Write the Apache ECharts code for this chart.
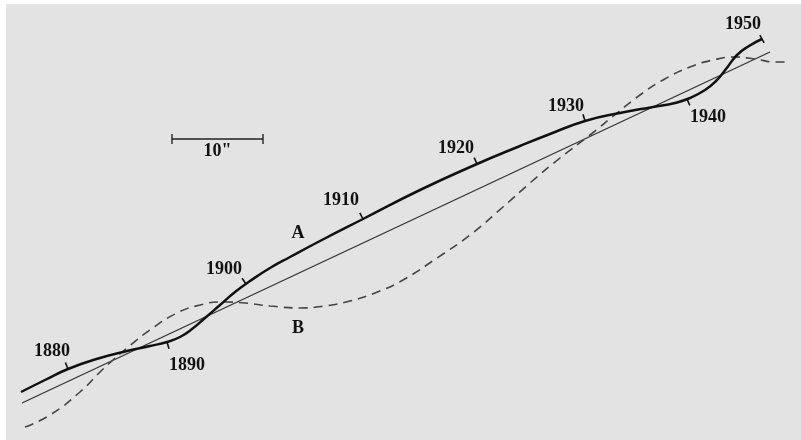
<!DOCTYPE html>
<html>
<head>
<meta charset="utf-8">
<script src="https://cdn.jsdelivr.net/npm/echarts@6/dist/echarts.min.js"></script>
<style>
html,body{margin:0;padding:0;background:#fff;}
#c{width:801px;height:440px;}
</style>
</head>
<body>
<div id="c"></div>
<script>
// Plane coordinates (x to the right, y upward), arbitrary units
const curveA = [
  [21,48],[45,60],[68,71],[100,82],[127,89],[150,94],[167,98],[180,103],[192,111],[205,122],
  [220,135],[235,148],[250,159],[270,172],[290,183],[320,199],[363,221],[420,250],[477,276],
  [520,294],[550,306],[585,319],[620,327],[653,333],[675,337],[690,342],[705,350],[716,359],
  [726,371],[737,385],[749,394],[762,401]
];
const meanLine = [[22,37],[770,388]];
const curveB = [
  [25,13],[50,25],[80,48],[100,68],[113,80],[127,92],[150,110],[177,127],[200,135],[222,138],
  [245,137],[270,134],[300,132],[325,134],[350,139],[375,147],[403,160],[437,182],[470,205],
  [503,233],[530,257],[560,282],[590,305],[617,327],[640,345],[663,360],[690,373],[713,380],
  [735,383],[755,381],[775,378],[788,378]
];
const years = [1880,1890,1900,1910,1920,1930,1940,1950];
const yearPoints = [[68,71],[167,98],[246,156],[363,221],[477,276],[585,319],[687,341],[762,401]];
const curveLabels = ['A','B'];
const curveLabelPoints = [[298,207],[298,112]];
const scaleBarStart = [172,301];
const scaleBarLength = 91; // 10 arcseconds
const scaleBarText = '10"';

// layout (pixels)
const tickSide = ['up','down','up','up','up','up','down','both'];
const yearLabelOffset = [[-16,-18],[20,23],[-22,-15],[-22,-19],[-21,-16],[-19,-15],[21,18],[-19,-15]];
const FONT = 'bold 18px "Liberation Serif", "Times New Roman", serif';

const chart = echarts.init(document.getElementById('c'), null, {renderer:'canvas'});

function tickItem(params, api){
  const i = params.dataIndex;
  const p = api.coord(yearPoints[i]);
  let best = 0, bd = Infinity;
  for (let k = 0; k < curveA.length; k++){
    const q = api.coord(curveA[k]);
    const d = (q[0]-p[0])**2 + (q[1]-p[1])**2;
    if (d < bd){ bd = d; best = k; }
  }
  const a = api.coord(curveA[Math.max(0,best-1)]);
  const b = api.coord(curveA[Math.min(curveA.length-1,best+1)]);
  let tx = b[0]-a[0], ty = b[1]-a[1];
  const L = Math.hypot(tx,ty); tx/=L; ty/=L;
  const nx = ty, ny = -tx; // points up-left
  const len = 7;
  let x1,y1,x2,y2;
  if (tickSide[i]==='up'){ x1=p[0]; y1=p[1]; x2=p[0]+nx*len; y2=p[1]+ny*len; }
  else if (tickSide[i]==='down'){ x1=p[0]; y1=p[1]; x2=p[0]-nx*len; y2=p[1]-ny*len; }
  else { x1=p[0]-nx*4.5; y1=p[1]-ny*4.5; x2=p[0]+nx*4.5; y2=p[1]+ny*4.5; }
  const off = yearLabelOffset[i];
  return {
    type:'group',
    children:[
      {type:'line', shape:{x1,y1,x2,y2}, style:{stroke:'#111', lineWidth:1.6}},
      {type:'text', x:p[0]+off[0], y:p[1]+off[1],
        style:{text:String(years[i]), font:FONT, fill:'#111', align:'center', verticalAlign:'middle'}}
    ]
  };
}

function letterItem(params, api){
  const p = api.coord(curveLabelPoints[params.dataIndex]);
  return {type:'text', x:p[0], y:p[1],
    style:{text:curveLabels[params.dataIndex], font:FONT, fill:'#111', align:'center', verticalAlign:'middle'}};
}

function scaleItem(params, api){
  const a = api.coord(scaleBarStart);
  const b = api.coord([scaleBarStart[0]+scaleBarLength, scaleBarStart[1]]);
  return {type:'group', children:[
    {type:'line', shape:{x1:a[0],y1:a[1],x2:b[0],y2:b[1]}, style:{stroke:'#222',lineWidth:1.4}},
    {type:'line', shape:{x1:a[0],y1:a[1]-5,x2:a[0],y2:a[1]+5}, style:{stroke:'#222',lineWidth:1.4}},
    {type:'line', shape:{x1:b[0],y1:b[1]-5,x2:b[0],y2:b[1]+5}, style:{stroke:'#222',lineWidth:1.4}},
    {type:'text', x:(a[0]+b[0])/2, y:a[1]+12,
      style:{text:scaleBarText, font:FONT, fill:'#111', align:'center', verticalAlign:'middle'}}
  ]};
}

chart.setOption({
  animation:false,
  backgroundColor:'#ffffff',
  graphic:[{type:'rect', left:6, top:4, z:-10, shape:{width:795, height:436}, style:{fill:'#e3e3e3'}}],
  grid:{left:0,right:0,top:0,bottom:0},
  xAxis:{type:'value', min:0, max:801, show:false},
  yAxis:{type:'value', min:0, max:440, show:false},
  series:[
    {type:'line', data:meanLine, symbol:'none', lineStyle:{color:'#333', width:1.3}},
    {type:'line', data:curveB, symbol:'none', smooth:0.5, lineStyle:{color:'#444', width:1.6, type:[9,6]}},
    {type:'line', data:curveA, symbol:'none', smooth:0.5, lineStyle:{color:'#111', width:2.5}},
    {type:'custom', data:yearPoints, renderItem:tickItem, z:5},
    {type:'custom', data:curveLabelPoints, renderItem:letterItem, z:5},
    {type:'custom', data:[scaleBarStart], renderItem:scaleItem, z:5}
  ]
});
</script>
</body>
</html>
